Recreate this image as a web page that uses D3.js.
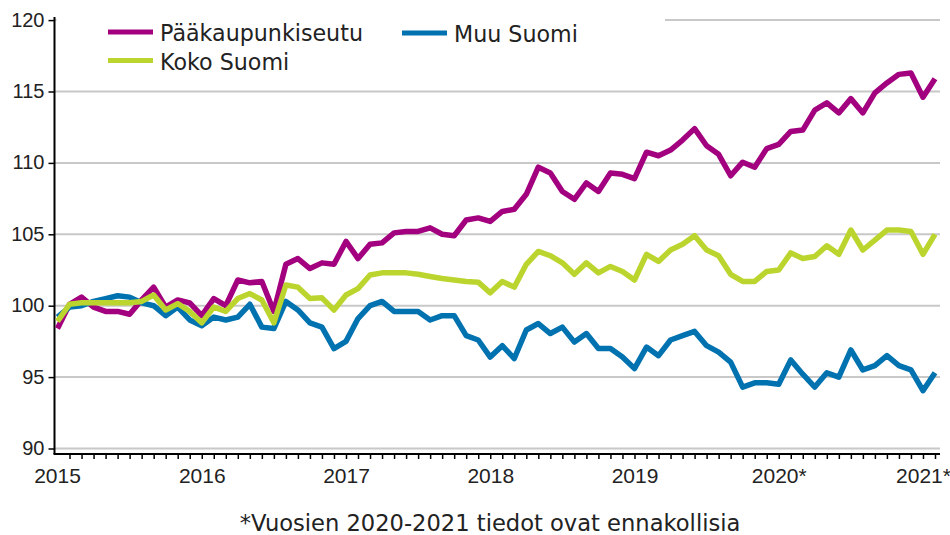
<!DOCTYPE html>
<html>
<head>
<meta charset="utf-8">
<script src="https://cdn.jsdelivr.net/npm/d3@7/dist/d3.min.js"></script>
<style>
  html, body { margin: 0; padding: 0; background: #fff; }
  svg { display: block; }
</style>
</head>
<body>
<svg id="chart" width="950" height="535"></svg>
<script>
'use strict';

// monthly index values, Jan 2015 .. Feb 2021
var paakaupunkiseutu = [
    98.4, 100.1, 100.6, 99.9, 99.6, 99.6, 99.4, 100.4, 101.3, 99.9,
    100.4, 100.2, 99.3, 100.5, 100.0, 101.8, 101.6, 101.7, 99.6, 102.9,
    103.3, 102.6, 103.0, 102.9, 104.5, 103.3, 104.3, 104.4, 105.1, 105.2,
    105.2, 105.45, 105.0, 104.9, 106.0, 106.15, 105.9, 106.6, 106.75, 107.8,
    109.7, 109.3, 108.0, 107.45, 108.6, 108.0, 109.3, 109.2, 108.9, 110.75,
    110.5, 110.9, 111.6, 112.4, 111.2, 110.6, 109.1, 110.05, 109.7, 111.0,
    111.3, 112.2, 112.3, 113.7, 114.2, 113.5, 114.5, 113.5, 114.9, 115.6,
    116.2, 116.3, 114.6, 115.9
];
var muuSuomi = [
    99.2, 99.9, 100.0, 100.3, 100.5, 100.7, 100.6, 100.2, 100.0, 99.3,
    99.9, 99.0, 98.6, 99.2, 99.0, 99.2, 100.1, 98.5, 98.4, 100.3,
    99.7, 98.8, 98.5, 97.0, 97.5, 99.1, 100.0, 100.3, 99.6, 99.6,
    99.6, 99.0, 99.3, 99.3, 97.9, 97.6, 96.4, 97.2, 96.3, 98.3,
    98.75, 98.05, 98.5, 97.45, 98.05, 97.0, 97.0, 96.4, 95.6, 97.1,
    96.5, 97.6, 97.9, 98.2, 97.2, 96.75, 96.05, 94.3, 94.6, 94.6,
    94.5, 96.2, 95.2, 94.3, 95.3, 95.0, 96.9, 95.5, 95.8, 96.5,
    95.8, 95.5, 94.05, 95.3
];
var kokoSuomi = [
    98.9, 100.1, 100.2, 100.2, 100.2, 100.2, 100.2, 100.3, 100.75, 99.7,
    100.15, 99.6, 98.8, 99.9, 99.6, 100.5, 100.85, 100.4, 98.8, 101.45,
    101.3, 100.5, 100.55, 99.7, 100.75, 101.2, 102.15, 102.3, 102.3, 102.3,
    102.2, 102.05, 101.9, 101.8, 101.7, 101.65, 100.9, 101.7, 101.3, 102.9,
    103.8, 103.5, 103.0, 102.2, 103.0, 102.3, 102.75, 102.4, 101.8, 103.6,
    103.1, 103.9, 104.3, 104.9, 103.9, 103.5, 102.2, 101.7, 101.7, 102.4,
    102.5, 103.7, 103.3, 103.45, 104.2, 103.6, 105.3, 103.9, 104.6, 105.3,
    105.3, 105.2, 103.6, 105.0
];

var yearLabels = ['2015', '2016', '2017', '2018', '2019', '2020*', '2021*'];
var yTicks = [90, 95, 100, 105, 110, 115, 120];
var seriesNames = ['Pääkaupunkiseutu', 'Muu Suomi', 'Koko Suomi'];
var seriesValues = [paakaupunkiseutu, muuSuomi, kokoSuomi];
var seriesColors = ['#a3007f', '#0072b0', '#bcd52e'];
var footnote = '*Vuosien 2020-2021 tiedot ovat ennakollisia';

var svg = d3.select('#chart');
var nMonths = paakaupunkiseutu.length;

var x = d3.scaleLinear().domain([0, nMonths - 1]).range([57.5, 935]);
var y = d3.scaleLinear().domain([90, 120]).range([448.5, 20.1]);

var axisLeftX = 54.5, axisRightX = 940, axisBottomY = 454;

// gridlines
svg.append('g')
    .selectAll('line')
    .data(yTicks)
    .join('line')
    .attr('x1', axisLeftX)
    .attr('x2', axisRightX)
    .attr('y1', function(d) { return y(d); })
    .attr('y2', function(d) { return y(d); })
    .attr('stroke', '#c8c8c8')
    .attr('stroke-width', 2);

// y axis
var yAxis = svg.append('g')
    .attr('transform', 'translate(' + axisLeftX + ',0)')
    .call(d3.axisLeft(y).tickValues(yTicks).tickSize(6).tickPadding(4));
yAxis.select('.domain').remove();
yAxis.selectAll('.tick line').attr('stroke', '#000').attr('stroke-width', 1.5);
yAxis.selectAll('.tick text')
    .attr('dy', '0.3em')
    .attr('fill', '#222')
    .style('font-family', '"Liberation Sans", Arial, sans-serif')
    .style('font-size', '20px');
svg.append('line')
    .attr('x1', axisLeftX).attr('x2', axisLeftX)
    .attr('y1', 17).attr('y2', axisBottomY)
    .attr('stroke', '#000').attr('stroke-width', 2);

// x axis, one tick per month, label every January
var xAxis = svg.append('g')
    .attr('transform', 'translate(0,' + axisBottomY + ')')
    .call(d3.axisBottom(x)
        .tickValues(d3.range(1, nMonths))
        .tickSize(5)
        .tickFormat(function(d) { return d % 12 === 0 ? yearLabels[d / 12] : ''; }));
xAxis.select('.domain').remove();
xAxis.selectAll('.tick line').attr('stroke', '#000').attr('stroke-width', 1.5);
xAxis.selectAll('.tick text')
    .attr('y', 29)
    .attr('dy', 0)
    .attr('fill', '#222')
    .style('font-family', '"Liberation Sans", Arial, sans-serif')
    .style('font-size', '21px');
svg.append('text')
    .attr('x', x(0))
    .attr('y', axisBottomY + 29)
    .attr('text-anchor', 'middle')
    .attr('fill', '#222')
    .style('font-family', '"Liberation Sans", Arial, sans-serif')
    .style('font-size', '21px')
    .text(yearLabels[0]);
svg.append('line')
    .attr('x1', axisLeftX - 1).attr('x2', axisRightX)
    .attr('y1', axisBottomY).attr('y2', axisBottomY)
    .attr('stroke', '#000').attr('stroke-width', 2);

// series lines
var line = d3.line()
    .x(function(d, i) { return x(i); })
    .y(function(d) { return y(d); });

svg.append('g')
    .selectAll('path')
    .data(seriesValues)
    .join('path')
    .attr('d', line)
    .attr('fill', 'none')
    .attr('stroke', function(d, i) { return seriesColors[i]; })
    .attr('stroke-width', 5.5)
    .attr('stroke-linejoin', 'round');

// legend, white box hides the top gridline behind it
var legendPos = [
    {x: 108, y: 32},
    {x: 402, y: 33},
    {x: 108, y: 60.5}
];
svg.append('rect')
    .attr('x', axisLeftX + 2).attr('y', 8)
    .attr('width', 665 - axisLeftX - 2).attr('height', 74)
    .attr('fill', '#fff');

var legend = svg.append('g')
    .selectAll('g')
    .data(seriesNames)
    .join('g')
    .attr('transform', function(d, i) {
        return 'translate(' + legendPos[i].x + ',' + legendPos[i].y + ')';
    });
legend.append('line')
    .attr('x1', 0).attr('x2', 45)
    .attr('stroke', function(d, i) { return seriesColors[i]; })
    .attr('stroke-width', 5);
legend.append('text')
    .attr('x', 52)
    .attr('y', 9)
    .attr('fill', '#222')
    .style('font-family', '"DejaVu Sans", Verdana, sans-serif')
    .style('font-size', '22.2px')
    .text(function(d) { return d; });

svg.append('text')
    .attr('x', 490)
    .attr('y', 531)
    .attr('text-anchor', 'middle')
    .attr('fill', '#222')
    .style('font-family', '"DejaVu Sans", Verdana, sans-serif')
    .style('font-size', '22.6px')
    .text(footnote);
</script>
</body>
</html>
